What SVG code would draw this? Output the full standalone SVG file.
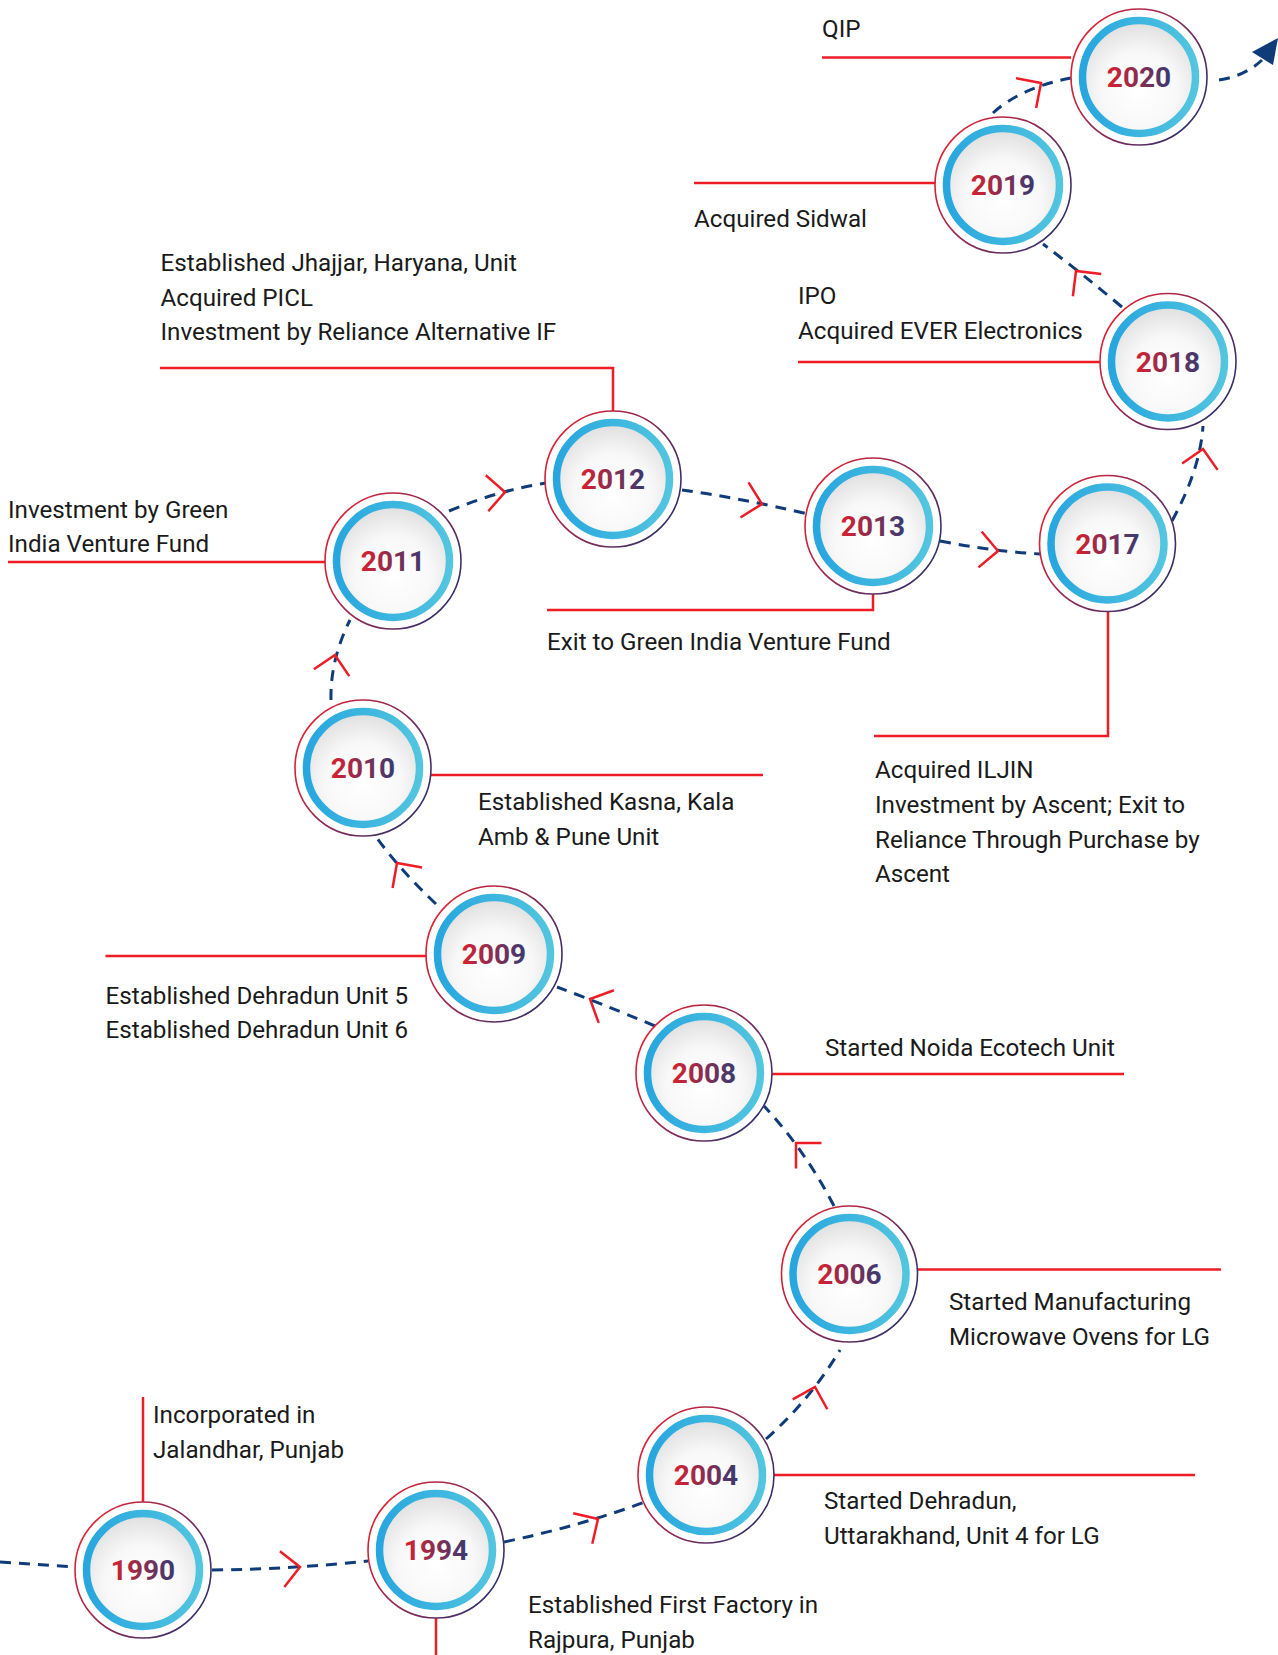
<svg xmlns="http://www.w3.org/2000/svg" width="1278" height="1655" viewBox="0 0 1278 1655">
<defs>
<linearGradient id="gOuter" x1="0" y1="0.2" x2="1" y2="0.8">
<stop offset="0" stop-color="#e8202d"/>
<stop offset="0.5" stop-color="#8a2a55"/>
<stop offset="1" stop-color="#25306e"/>
</linearGradient>
<linearGradient id="gBlue" x1="0" y1="0" x2="1" y2="0">
<stop offset="0" stop-color="#27a6df"/>
<stop offset="1" stop-color="#52c5df"/>
</linearGradient>
<radialGradient id="gFill" cx="0.5" cy="0.62" r="0.62">
<stop offset="0" stop-color="#ffffff"/>
<stop offset="0.55" stop-color="#f8f8f8"/>
<stop offset="1" stop-color="#dedede"/>
</radialGradient>
<linearGradient id="gYear" x1="0" y1="0" x2="1" y2="0">
<stop offset="0" stop-color="#d8202f"/>
<stop offset="1" stop-color="#393a72"/>
</linearGradient>
<g id="badge">
<circle r="68" fill="#ffffff" stroke="url(#gOuter)" stroke-width="1.6"/>
<circle r="56.5" fill="url(#gFill)" stroke="url(#gBlue)" stroke-width="7.5"/>
</g>
<path id="chev" d="M-18,-18 L0,0 L-18,18"/>
</defs>
<style>
.dash{fill:none;stroke:#0f3c78;stroke-width:3;stroke-dasharray:11 8;}
.chev{fill:none;stroke:#ee1c25;stroke-width:2.5;}
.lead{fill:none;stroke:#ee1c25;stroke-width:2.5;}
.yr{font-family:Roboto,"Liberation Sans",sans-serif;font-weight:bold;font-size:28px;fill:url(#gYear);text-anchor:middle;}
.lbl{font-family:Roboto,"Liberation Sans",sans-serif;font-size:24.2px;fill:#1a1a1a;}
</style>
<rect width="1278" height="1655" fill="#ffffff"/>

<g id="connectors">
<path class="dash" d="M0,1562 L75,1567"/>
<path class="dash" d="M212,1570 Q295,1569 368,1561"/>
<path class="dash" d="M504,1542 Q580,1526 645,1502"/>
<path class="dash" d="M766,1439 Q810,1400 840,1350"/>
<path class="dash" d="M834,1206 Q805,1150 764,1106"/>
<path class="dash" d="M655,1026 Q600,1003 557,987"/>
<path class="dash" d="M436,904 Q400,870 377,838"/>
<path class="dash" d="M331,700 Q330,660 350,620"/>
<path class="dash" d="M449,511 Q500,490 546,483"/>
<path class="dash" d="M682,490 Q740,498 808,514"/>
<path class="dash" d="M940,541 Q990,551 1040,554"/>
<path class="dash" d="M1172,521 Q1200,470 1203,426"/>
<path class="dash" d="M1122,307 Q1080,272 1043,244"/>
<path class="dash" d="M993,113 Q1020,88 1071,78"/>
<path class="dash" d="M1219,80 Q1245,76 1262,60"/>
<polygon points="1252,52 1278,38 1273,65" fill="#0f3c78"/>
<use href="#chev" class="chev" transform="translate(300,1567) rotate(-7)"/>
<use href="#chev" class="chev" transform="translate(598,1519) rotate(-32)"/>
<use href="#chev" class="chev" transform="translate(815,1387) rotate(-74)"/>
<use href="#chev" class="chev" transform="translate(796,1143) rotate(-135)"/>
<use href="#chev" class="chev" transform="translate(590,999) rotate(-155)"/>
<use href="#chev" class="chev" transform="translate(397,863) rotate(-125)"/>
<use href="#chev" class="chev" transform="translate(335,655) rotate(-79)"/>
<use href="#chev" class="chev" transform="translate(505,492) rotate(-4)"/>
<use href="#chev" class="chev" transform="translate(762,504) rotate(13)"/>
<use href="#chev" class="chev" transform="translate(998,551) rotate(5)"/>
<use href="#chev" class="chev" transform="translate(1203,449) rotate(-80)"/>
<use href="#chev" class="chev" transform="translate(1076,271) rotate(-128)"/>
<use href="#chev" class="chev" transform="translate(1041,83) rotate(-34)"/>
</g>

<g id="n1990">
<path class="lead" d="M143,1397 V1502"/>
<use href="#badge" x="143" y="1570"/>
<text class="yr" x="143" y="1580">1990</text>
<text class="lbl" x="153" y="1423">Incorporated in</text>
<text class="lbl" x="153" y="1458">Jalandhar, Punjab</text>
</g>
<g id="n1994">
<path class="lead" d="M436,1618 V1655"/>
<use href="#badge" x="436" y="1550"/>
<text class="yr" x="436" y="1560">1994</text>
<text class="lbl" x="528" y="1613">Established First Factory in</text>
<text class="lbl" x="528" y="1648">Rajpura, Punjab</text>
</g>
<g id="n2004">
<path class="lead" d="M774,1475 H1195"/>
<use href="#badge" x="706" y="1475"/>
<text class="yr" x="706" y="1485">2004</text>
<text class="lbl" x="824" y="1509">Started Dehradun,</text>
<text class="lbl" x="824" y="1544">Uttarakhand, Unit 4 for LG</text>
</g>
<g id="n2006">
<path class="lead" d="M917,1269.5 H1221"/>
<use href="#badge" x="849.5" y="1274"/>
<text class="yr" x="849.5" y="1284">2006</text>
<text class="lbl" x="949" y="1309.5">Started Manufacturing</text>
<text class="lbl" x="949" y="1344.5">Microwave Ovens for LG</text>
</g>
<g id="n2008">
<path class="lead" d="M772,1074 H1124"/>
<use href="#badge" x="704" y="1073"/>
<text class="yr" x="704" y="1083">2008</text>
<text class="lbl" x="825" y="1056">Started Noida Ecotech Unit</text>
</g>
<g id="n2009">
<path class="lead" d="M105.5,956 H426"/>
<use href="#badge" x="494" y="954"/>
<text class="yr" x="494" y="964">2009</text>
<text class="lbl" x="105.5" y="1003.5">Established Dehradun Unit 5</text>
<text class="lbl" x="105.5" y="1038">Established Dehradun Unit 6</text>
</g>
<g id="n2010">
<path class="lead" d="M431,775 H763"/>
<use href="#badge" x="363" y="768"/>
<text class="yr" x="363" y="778">2010</text>
<text class="lbl" x="478" y="810">Established Kasna, Kala</text>
<text class="lbl" x="478" y="845">Amb &amp; Pune Unit</text>
</g>
<g id="n2011">
<path class="lead" d="M8,562 H325"/>
<use href="#badge" x="393" y="561"/>
<text class="yr" x="393" y="571">2011</text>
<text class="lbl" x="8" y="518">Investment by Green</text>
<text class="lbl" x="8" y="552">India Venture Fund</text>
</g>
<g id="n2012">
<path class="lead" d="M160,368 H613 V411"/>
<use href="#badge" x="613" y="479"/>
<text class="yr" x="613" y="489">2012</text>
<text class="lbl" x="160.5" y="271">Established Jhajjar, Haryana, Unit</text>
<text class="lbl" x="160.5" y="305.5">Acquired PICL</text>
<text class="lbl" x="160.5" y="340">Investment by Reliance Alternative IF</text>
</g>
<g id="n2013">
<path class="lead" d="M547,610 H873 V594"/>
<use href="#badge" x="873" y="526"/>
<text class="yr" x="873" y="536">2013</text>
<text class="lbl" x="547" y="650">Exit to Green India Venture Fund</text>
</g>
<g id="n2017">
<path class="lead" d="M874,736 H1108 V611"/>
<use href="#badge" x="1107.5" y="543.5"/>
<text class="yr" x="1107.5" y="553.5">2017</text>
<text class="lbl" x="875" y="778">Acquired ILJIN</text>
<text class="lbl" x="875" y="813">Investment by Ascent; Exit to</text>
<text class="lbl" x="875" y="847.5">Reliance Through Purchase by</text>
<text class="lbl" x="875" y="882">Ascent</text>
</g>
<g id="n2018">
<path class="lead" d="M798,362 H1100"/>
<use href="#badge" x="1168" y="361.5"/>
<text class="yr" x="1168" y="371.5">2018</text>
<text class="lbl" x="798" y="304">IPO</text>
<text class="lbl" x="798" y="339">Acquired EVER Electronics</text>
</g>
<g id="n2019">
<path class="lead" d="M694,183 H935"/>
<use href="#badge" x="1003" y="185"/>
<text class="yr" x="1003" y="195">2019</text>
<text class="lbl" x="694" y="227">Acquired Sidwal</text>
</g>
<g id="n2020">
<path class="lead" d="M822,57.5 H1071"/>
<use href="#badge" x="1139" y="77"/>
<text class="yr" x="1139" y="87">2020</text>
<text class="lbl" x="822" y="37">QIP</text>
</g>
</svg>
